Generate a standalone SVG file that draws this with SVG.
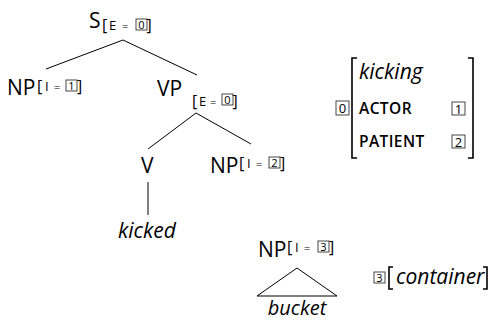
<svg xmlns="http://www.w3.org/2000/svg" width="490" height="320" viewBox="0 0 490 320">
<style>
.lab{font-family:"Open Sans","DejaVu Sans",sans-serif;font-size:21px;fill:#000}
.it{font-family:"Open Sans","DejaVu Sans",sans-serif;font-style:italic;font-size:21px;fill:#000}
.br{font-family:"Open Sans","DejaVu Sans",sans-serif;font-size:16px;fill:#000}
.sm{font-family:"Open Sans","DejaVu Sans",sans-serif;font-size:13px;fill:#000}
.eq{font-family:"Open Sans","DejaVu Sans",sans-serif;font-size:11px;fill:#000}
.dg{font-family:"Open Sans","DejaVu Sans",sans-serif;font-size:11px;fill:#000;text-anchor:middle}
.dgl{font-family:"Open Sans","DejaVu Sans",sans-serif;font-size:13px;fill:#000;text-anchor:middle}
.sc{font-family:"Open Sans","DejaVu Sans",sans-serif;font-size:15.5px;font-weight:600;letter-spacing:0.4px;fill:#000}
.box{fill:#fff;stroke:#333;stroke-width:0.9}
.ln{stroke:#000;stroke-width:1;fill:none}
.bk{stroke:#000;stroke-width:1.6;fill:none}
</style>
<g id="connectors">
<line class="ln" x1="123" y1="40" x2="46" y2="69"/>
<line class="ln" x1="123" y1="40" x2="197" y2="75"/>
<line class="ln" x1="196" y1="113" x2="148" y2="149"/>
<line class="ln" x1="196" y1="113" x2="251" y2="144"/>
<line class="ln" x1="148" y1="182" x2="148" y2="215"/>
<polygon class="ln" points="297,268 257,296 337,296"/>
</g>
<g id="S">
<text class="lab" x="89" y="28">S</text>
<text class="br" x="102" y="31">[</text>
<text class="sm" x="109" y="30">E</text>
<text class="eq" x="122" y="30">=</text>
<rect class="box" x="136" y="19" width="11" height="11"/>
<text class="dg" x="141.5" y="28.5">0</text>
<text class="br" x="146.5" y="31">]</text>
</g>
<g id="NP1">
<text class="lab" x="7" y="95">NP</text>
<text class="br" x="37" y="92">[</text>
<text class="sm" x="45" y="91">I</text>
<text class="eq" x="54" y="91">=</text>
<rect class="box" x="66" y="80" width="11" height="11"/>
<text class="dg" x="71.5" y="89.5">1</text>
<text class="br" x="77" y="92">]</text>
</g>
<g id="VP">
<text class="lab" x="157" y="96">VP</text>
<text class="br" x="192" y="107">[</text>
<text class="sm" x="199" y="106">E</text>
<text class="eq" x="210" y="106">=</text>
<rect class="box" x="222" y="94" width="11" height="11"/>
<text class="dg" x="227.5" y="103.5">0</text>
<text class="br" x="232.5" y="107">]</text>
</g>
<g id="V">
<text class="lab" x="141" y="173">V</text>
</g>
<g id="NP2">
<text class="lab" x="210" y="173">NP</text>
<text class="br" x="239" y="169">[</text>
<text class="sm" x="247" y="168">I</text>
<text class="eq" x="256" y="168">=</text>
<rect class="box" x="269" y="157" width="11" height="11"/>
<text class="dg" x="274.5" y="166.5">2</text>
<text class="br" x="280" y="169">]</text>
</g>
<g id="kicked">
<text class="it" x="118" y="238">kicked</text>
</g>
<g id="NP3">
<text class="lab" x="258" y="257">NP</text>
<text class="br" x="287" y="253">[</text>
<text class="sm" x="295" y="252">I</text>
<text class="eq" x="304" y="252">=</text>
<rect class="box" x="318" y="241" width="11" height="11"/>
<text class="dg" x="323.5" y="250.5">3</text>
<text class="br" x="329" y="253">]</text>
</g>
<g id="bucket">
<text class="it" x="297" y="315" text-anchor="middle" style="font-size:20px">bucket</text>
</g>
<g id="avm-kicking">
<rect class="box" x="336" y="101" width="13" height="14"/>
<text class="dgl" x="342.5" y="112.5">0</text>
<path class="bk" d="M357,58 H352 V158 H357"/>
<path class="bk" d="M468,58 H473 V158 H468"/>
<text class="it" x="359" y="79">kicking</text>
<text class="sc" x="359" y="114">ACTOR</text>
<rect class="box" x="452" y="102" width="13" height="13"/>
<text class="dgl" x="458.5" y="113.5">1</text>
<text class="sc" x="359" y="147">PATIENT</text>
<rect class="box" x="452" y="135" width="13" height="13"/>
<text class="dgl" x="458.5" y="146.5">2</text>
</g>
<g id="avm-container">
<rect class="box" x="374" y="272" width="11" height="11"/>
<text class="dg" x="379.5" y="281.5">3</text>
<path class="bk" d="M393,267 H389 V289 H393"/>
<text class="it" x="396" y="284">container</text>
<path class="bk" d="M483,267 H487 V289 H483"/>
</g>
</svg>
